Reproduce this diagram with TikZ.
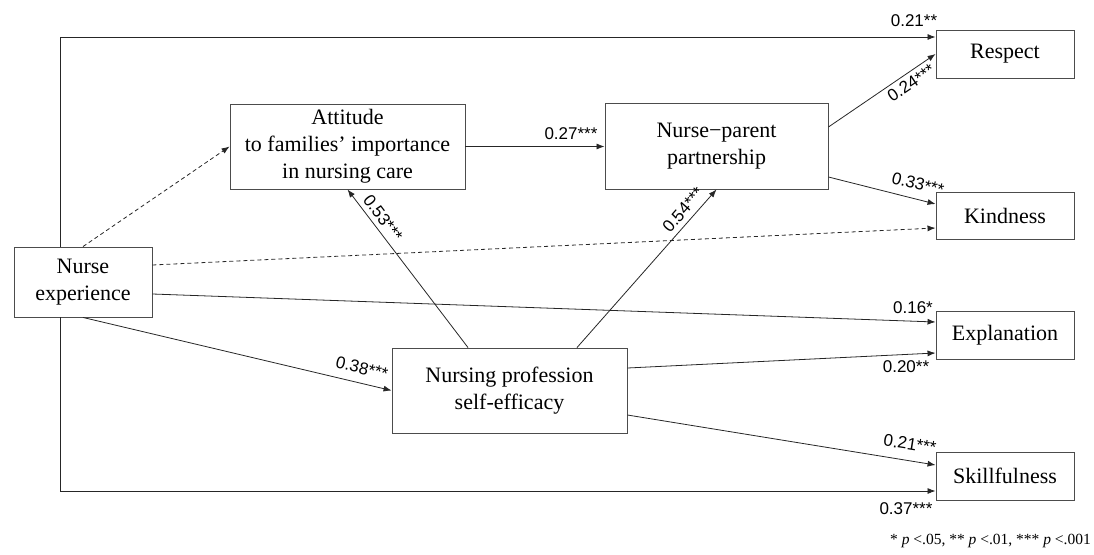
\documentclass[tikz,border=0pt]{standalone}
\usepackage{fontspec}
\setmainfont{Liberation Serif}
\newfontfamily\lblfont{Liberation Sans}
\usetikzlibrary{arrows.meta}
\begin{document}
\begin{tikzpicture}[x=1pt,y=-1pt,
  box/.style={draw=black!70, line width=0.9pt, fill=white, align=center, inner sep=0pt, font=\fontsize{22}{27}\selectfont},
  arr/.style={line width=0.8pt, draw=black!85, -{Latex[length=8pt,width=6pt]}},
  dsh/.style={arr, dash pattern=on 4pt off 3pt},
  lbl/.style={font=\lblfont\fontsize{17}{20}\selectfont, inner sep=0pt},
]
\useasboundingbox (0,0) rectangle (1094,554);
% boxes
\node[box, minimum width=138pt, minimum height=70pt] (ne) at (83,282) {Nurse\\experience};
\node[box, minimum width=235pt, minimum height=85pt] (att) at (347.5,146.5) {Attitude\\to families’ importance\\in nursing care};
\node[box, minimum width=223pt, minimum height=86pt] (np) at (716.5,146) {Nurse−parent\\partnership};
\node[box, minimum width=235pt, minimum height=85pt] (nps) at (509.5,390.5) {Nursing profession\\self-efficacy};
\node[box, minimum width=138pt, minimum height=48pt] (res) at (1005,54) {Respect};
\node[box, minimum width=138pt, minimum height=47pt] (kin) at (1005,215.5) {Kindness};
\node[box, minimum width=138pt, minimum height=48pt] (exp) at (1005,335) {Explanation};
\node[box, minimum width=138pt, minimum height=48pt] (sk) at (1005,476) {Skillfulness};
% connectors
\draw[arr] ([xshift=-23pt]ne.north) |- ([yshift=17pt]res.west);
\draw[arr] ([xshift=-23pt]ne.south) |- ([yshift=-15pt]sk.west);
\draw[dsh] (ne.north) -- (att.west);
\draw[dsh] ([yshift=17pt]ne.east) -- ([yshift=-12.5pt]kin.west);
\draw[arr] ([yshift=-12pt]ne.east) -- ([yshift=13pt]exp.west);
\draw[arr] (ne.south) -- (nps.west);
\draw[arr] (att.east) -- (att.east -| np.west);
\draw[arr] ([xshift=-41.5pt]nps.north) -- (att.south);
\draw[arr] ([xshift=67.5pt]nps.north) -- (np.south);
\draw[arr] ([yshift=19pt]np.east) -- (res.west);
\draw[arr] ([yshift=-31pt]np.east) -- ([yshift=11.5pt]kin.west);
\draw[arr] ([yshift=22.5pt]nps.east) -- ([yshift=-18pt]exp.west);
\draw[arr] ([yshift=-24.5pt]nps.east) -- ([yshift=11pt]sk.west);
% labels
\node[lbl] (l27) at (571,134) {0.27***};
\node[lbl] (l21a) at (914,21) {0.21**};
\node[lbl, rotate=34] (l24) at (911,83) {0.24***};
\node[lbl, rotate=-14] (l33) at (918,184) {0.33***};
\node[lbl, rotate=-53] (l53) at (383,218) {0.53***};
\node[lbl, rotate=49] (l54) at (683,210) {0.54***};
\node[lbl, rotate=-13.5] (l38) at (362,368) {0.38***};
\node[lbl] (l16) at (913,308) {0.16*};
\node[lbl] (l20) at (906,367) {0.20**};
\node[lbl, rotate=-9] (l21b) at (910,444) {0.21***};
\node[lbl] (l37) at (906,509) {0.37***};
\node[anchor=east, inner sep=0pt, font=\fontsize{15.5}{18}\selectfont] (note) at (1091,541) {* \textit{p} <.05, ** \textit{p} <.01, *** \textit{p} <.001};
\end{tikzpicture}
\end{document}
